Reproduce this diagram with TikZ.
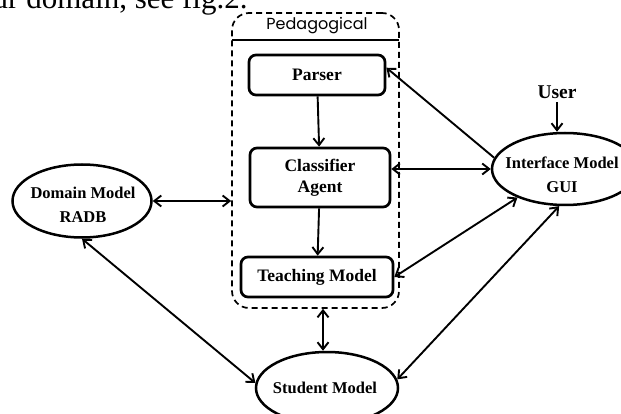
\documentclass[tikz,border=0pt]{standalone}
\usepackage{fontspec}
\setmainfont{Liberation Serif}
\newfontfamily\pedfont{Poppins}
\usetikzlibrary{arrows.meta,shapes.geometric}
\begin{document}
\begin{tikzpicture}[x=1pt,y=-1pt,
  ellfont/.style={font=\fontsize{16.5}{24}\selectfont\bfseries, align=center, inner sep=0pt},
  boxfont/.style={font=\fontsize{17.5}{21}\selectfont\bfseries, align=center},
  box/.style={boxfont, draw, line width=2.7pt, rounded corners=7pt, inner sep=0pt},
  ell/.style={draw, ellipse, line width=2.5pt, inner sep=0pt},
  conn/.style={line width=1.9pt},
  >={Straight Barb[length=7pt,width=11pt,line width=1.9pt]}
]
\useasboundingbox (0,0) rectangle (621,414);
\clip (0,0) rectangle (621,414);
% clipped caption line of the source page
\node[anchor=base west, inner sep=0pt, font=\fontsize{31}{35}\selectfont] (cap) at (-23,9) {our domain, see fig.2.};
% pedagogical container
\node[draw, dashed, dash pattern=on 6pt off 4pt, line width=1.7pt, rounded corners=17pt,
      minimum width=167pt, minimum height=295pt] (ped) at (315.5,160.5) {};
\node[font=\pedfont\fontsize{16}{19}\selectfont] (pedt) at (317,26) {Pedagogical};
\coordinate (hl) at (232,40);
\coordinate (hr) at (399,40);
\draw[line width=1.7pt] (hl) -- (hr);
% inner boxes
\node[box, minimum width=136pt, minimum height=40pt] (par) at (317,75) {Parser};
\node[box, minimum width=140pt, minimum height=59pt] (cls) at (320,177.5) {Classifier\\Agent};
\node[box, minimum width=152pt, minimum height=40pt] (tch) at (317,277) {Teaching Model};
% ellipses
\node[ell, minimum width=139pt, minimum height=73pt] (dom) at (82,201) {};
\node[ellfont] (domt) at (83,205) {Domain Model\\RADB};
\node[ell, minimum width=146pt, minimum height=72pt] (intf) at (565,169) {};
\node[ellfont] (intft) at (562,175) {Interface Model\\GUI};
\node[ell, minimum width=142pt, minimum height=72pt] (stu) at (327,388) {};
\node[ellfont] (stut) at (325,388) {Student Model};
\node[font=\fontsize{19.5}{22}\selectfont\bfseries] (usr) at (557,92) {User};
% connectors
\draw[conn,->] (par) -- (cls);
\draw[conn,->] (cls) -- (tch);
\draw[conn,->] (usr) -- (usr |- intf.north);
\draw[conn,->] (intf.171) -- (par.6);
\draw[conn,<->] (cls.east |- intf.west) -- (intf.west);
\draw[conn,<->] (tch.east) -- (intf.211);
\draw[conn,<->] (dom.east) -- (dom.east -| ped.west);
\draw[conn,<->] (dom.south) -- (stu.176);
\draw[conn,<->] (intf.261) -- (stu.7);
\draw[conn,<->] (ped.south -| 323,0) -- (stu.north -| 323,0);
\end{tikzpicture}
\end{document}
